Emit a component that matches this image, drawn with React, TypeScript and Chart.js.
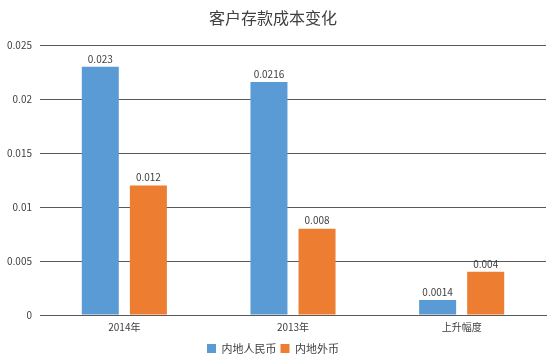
import React, { useEffect, useRef } from "react";
import { Chart, registerables } from "chart.js";

Chart.register(...registerables);

const categories = ["2014年", "2013年", "上升幅度"];
const rmbValues = [0.023, 0.0216, 0.0014];
const fxValues = [0.012, 0.008, 0.004];
const rmbLabels = ["0.023", "0.0216", "0.0014"];
const fxLabels = ["0.012", "0.008", "0.004"];
const seriesNames = ["内地人民币", "内地外币"];
const yTicks = [0, 0.005, 0.01, 0.015, 0.02, 0.025];
const yTickLabels = ["0", "0.005", "0.01", "0.015", "0.02", "0.025"];

const FONT = "'Noto Sans CJK SC', 'DejaVu Sans', sans-serif";

const valueLabelPlugin = {
  id: "valueLabels",
  afterDatasetsDraw(chart: any) {
    const ctx = chart.ctx;
    const texts = [rmbLabels, fxLabels];
    ctx.save();
    ctx.font = `10px ${FONT}`;
    ctx.fillStyle = "#404040";
    ctx.textAlign = "center";
    ctx.textBaseline = "bottom";
    chart.data.datasets.forEach((ds: any, di: number) => {
      const meta = chart.getDatasetMeta(di);
      meta.data.forEach((bar: any, i: number) => {
        ctx.fillText(texts[di][i], bar.x, bar.y - 3);
      });
    });
    ctx.restore();
  },
};

export default function App() {
  const ref = useRef<HTMLCanvasElement | null>(null);
  useEffect(() => {
    document.body.style.margin = "0";
    const chart = new Chart(ref.current!, {
      type: "bar",
      data: {
        labels: categories,
        datasets: [
          {
            label: seriesNames[0],
            data: rmbValues,
            backgroundColor: "#5B9BD5",
            borderWidth: 0,
          },
          {
            label: seriesNames[1],
            data: fxValues,
            backgroundColor: "#ED7D31",
            borderWidth: 0,
          },
        ],
      },
      options: {
        animation: false,
        responsive: false,
        devicePixelRatio: 1,
        layout: { padding: { left: 0, right: 14, top: 0, bottom: -2 } },
        datasets: {
          bar: { categoryPercentage: 0.57, barPercentage: 0.77 },
        },
        plugins: {
          title: {
            display: true,
            text: "客户存款成本变化",
            color: "#404040",
            font: { family: FONT, size: 16, weight: "normal" },
            padding: { top: 8, bottom: 18 },
          },
          legend: {
            position: "bottom",
            labels: {
              boxWidth: 9,
              boxHeight: 9,
              padding: 4,
              color: "#404040",
              font: { family: FONT, size: 11 },
            },
          },
          tooltip: { enabled: false },
        },
        scales: {
          x: {
            grid: { display: false, drawTicks: false },
            border: { display: true, color: "#595959", width: 1 },
            ticks: { color: "#404040", font: { family: FONT, size: 10 }, padding: 6 },
          },
          y: {
            min: 0,
            max: 0.025,
            afterFit(scale: any) {
              scale.width = 40;
            },
            afterBuildTicks(scale: any) {
              scale.ticks = yTicks.map((v) => ({ value: v }));
            },
            grid: { color: "#595959", lineWidth: 1, drawTicks: false },
            border: { display: false },
            ticks: {
              color: "#404040",
              font: { family: FONT, size: 10 },
              padding: 8,
              callback: (v: any) => {
                const i = yTicks.indexOf(Number(v));
                return i >= 0 ? yTickLabels[i] : "";
              },
            },
          },
        },
      },
      plugins: [valueLabelPlugin],
    });
    return () => chart.destroy();
  }, []);
  return <canvas ref={ref} width={560} height={362} style={{ display: "block" }} />;
}
